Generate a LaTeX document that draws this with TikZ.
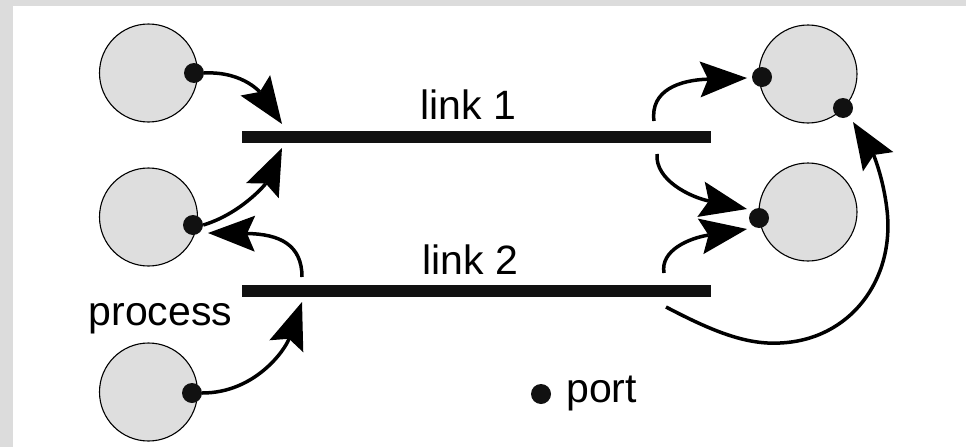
\documentclass[tikz,border=0pt]{standalone}
\usepackage{fontspec}
\setmainfont{Liberation Sans}
\usetikzlibrary{arrows.meta}
\definecolor{bordergray}{HTML}{DCDCDC}
\definecolor{procgray}{HTML}{DEDEDE}
\definecolor{ink}{HTML}{111111}
\begin{document}
\begin{tikzpicture}[x=1pt,y=-1pt,
  proc/.style={circle,draw=black,line width=1.1pt,fill=procgray,minimum size=98pt,inner sep=0pt},
  portdot/.style={circle,fill=ink,minimum size=20pt,inner sep=0pt},
  linkbar/.style={rectangle,fill=ink,minimum width=469pt,minimum height=12pt,inner sep=0pt},
  lbl/.style={font=\fontsize{41}{45}\selectfont,inner sep=0pt},
  conn/.style={line width=3.5pt,-{Stealth[length=47pt,width=36pt,inset=8pt,line width=0pt]}}]
\useasboundingbox (0,0) rectangle (966,447);
\fill[bordergray] (0,0) rectangle (966,447);
\fill[white] (13,6) rectangle (966,447);
% processes
\node[proc] (p1) at (148.5,73) {};
\node[proc] (p2) at (148.5,217) {};
\node[proc] (p3) at (148.5,392) {};
\node[proc] (p4) at (808,74) {};
\node[proc] (p5) at (808,212) {};
% ports
\node[portdot] (q1) at (194,73) {};
\node[portdot] (q2) at (193,225) {};
\node[portdot] (q3) at (192,393) {};
\node[portdot] (q4a) at (762,77) {};
\node[portdot] (q4b) at (843,108) {};
\node[portdot] (q5) at (759,218) {};
% links
\node[linkbar] (l1) at (476.5,137) {};
\node[linkbar] (l2) at (476.5,291) {};
% labels
\node[lbl,anchor=base] (t1) at (468,119) {link 1};
\node[lbl,anchor=base] (t2) at (470.5,274) {link 2};
\node[lbl,anchor=base] (tp) at (160.5,325) {process};
\node[portdot] (legdot) at (541,394) {};
\node[lbl,anchor=base west] (tport) at (566,402) {port};
% connector endpoints
\coordinate (a1) at (282,124);
\coordinate (a2) at (282,148);
\coordinate (b3) at (302,277);
\coordinate (e3) at (208,233);
\coordinate (a4) at (302,302);
\coordinate (b5) at (654,121);
\coordinate (e5) at (747,78);
\coordinate (b6) at (657,154);
\coordinate (e6) at (747,209);
\coordinate (b7) at (664,273);
\coordinate (e7) at (747,229);
\coordinate (b8) at (666,307);
\coordinate (m8) at (780,343);
\coordinate (r8) at (887,210);
\coordinate (e8) at (853,122);
% left connectors
\draw[conn] (q1.east) .. controls (245,71) and (262,95) .. (a1);
\draw[conn] (q2.east) .. controls (240,214) and (265,185) .. (a2);
\draw[conn] (b3) .. controls (302,245) and (280,234) .. (e3);
\draw[conn] (q3.east) .. controls (255,393) and (285,350) .. (a4);
% right connectors
\draw[conn] (b5) .. controls (650,90) and (680,80) .. (e5);
\draw[conn] (b6) .. controls (655,180) and (690,197) .. (e6);
\draw[conn] (b7) .. controls (660,250) and (690,238) .. (e7);
\draw[line width=3.5pt] (b8) .. controls (710,330) and (745,345) .. (m8)
  .. controls (850,340) and (895,280) .. (r8);
\draw[conn] (r8) .. controls (883,175) and (872,152) .. (e8);
\end{tikzpicture}
\end{document}
